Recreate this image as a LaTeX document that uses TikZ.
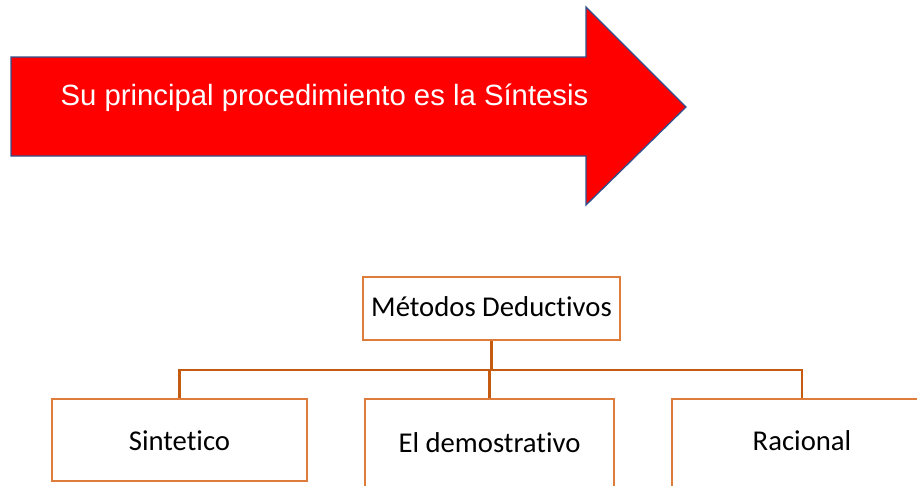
\documentclass[tikz,border=0pt]{standalone}
\usepackage{fontspec}
\newfontfamily\arialf{Liberation Sans}
\newfontfamily\calf[Ligatures={NoCommon}]{Carlito}
\definecolor{arrowred}{RGB}{255,0,0}
\definecolor{arrowedge}{RGB}{47,82,143}
\definecolor{boxorange}{RGB}{222,124,60}
\definecolor{lineorange}{RGB}{197,90,17}
\begin{document}
\begin{tikzpicture}[x=1pt,y=-1pt,
  obox/.style={draw=boxorange, line width=2.3pt, fill=white, inner sep=0pt,
    font=\calf\fontsize{28.7}{30}\selectfont, text depth=0pt},
  conn/.style={draw=lineorange, line width=2.2pt}]
\useasboundingbox (0,0) rectangle (917,485);
\fill[white] (0,0) rectangle (917,485);
% big arrow
\draw[fill=arrowred, draw=arrowedge, line width=1.3pt, line join=miter]
  (11,57) -- (586,57) -- (586,7) -- (686,107) -- (586,205) -- (586,156) -- (11,156) -- cycle;
\node[anchor=base, text=white, font=\arialf\fontsize{29.3}{31}\selectfont, inner sep=0pt]
  (lbl) at (324.5,105) {Su principal procedimiento es la Síntesis};
% hierarchy
\coordinate (busL) at (179,370);
\coordinate (busR) at (802,370);
\node[obox, minimum width=257pt, minimum height=63pt, text height=16.4pt] (top) at (491.5,308.5) {Métodos Deductivos};
\node[obox, minimum width=255pt, minimum height=82pt, text height=20pt] (sint) at (179.5,440) {Sintetico};
\node[obox, minimum width=249pt, minimum height=100pt, text height=7.4pt] (dem) at (489.5,449) {El demostrativo};
\node[obox, minimum width=260pt, minimum height=100pt, text height=3.4pt] (rac) at (802,449) {Racional};
\draw[conn] (top.south) -- (top.south |- busL);
\draw[conn] (sint.north) -- (sint.north |- busL) -- (rac.north |- busR) -- (rac.north);
\draw[conn] (dem.north |- busL) -- (dem.north);
\end{tikzpicture}
\end{document}
